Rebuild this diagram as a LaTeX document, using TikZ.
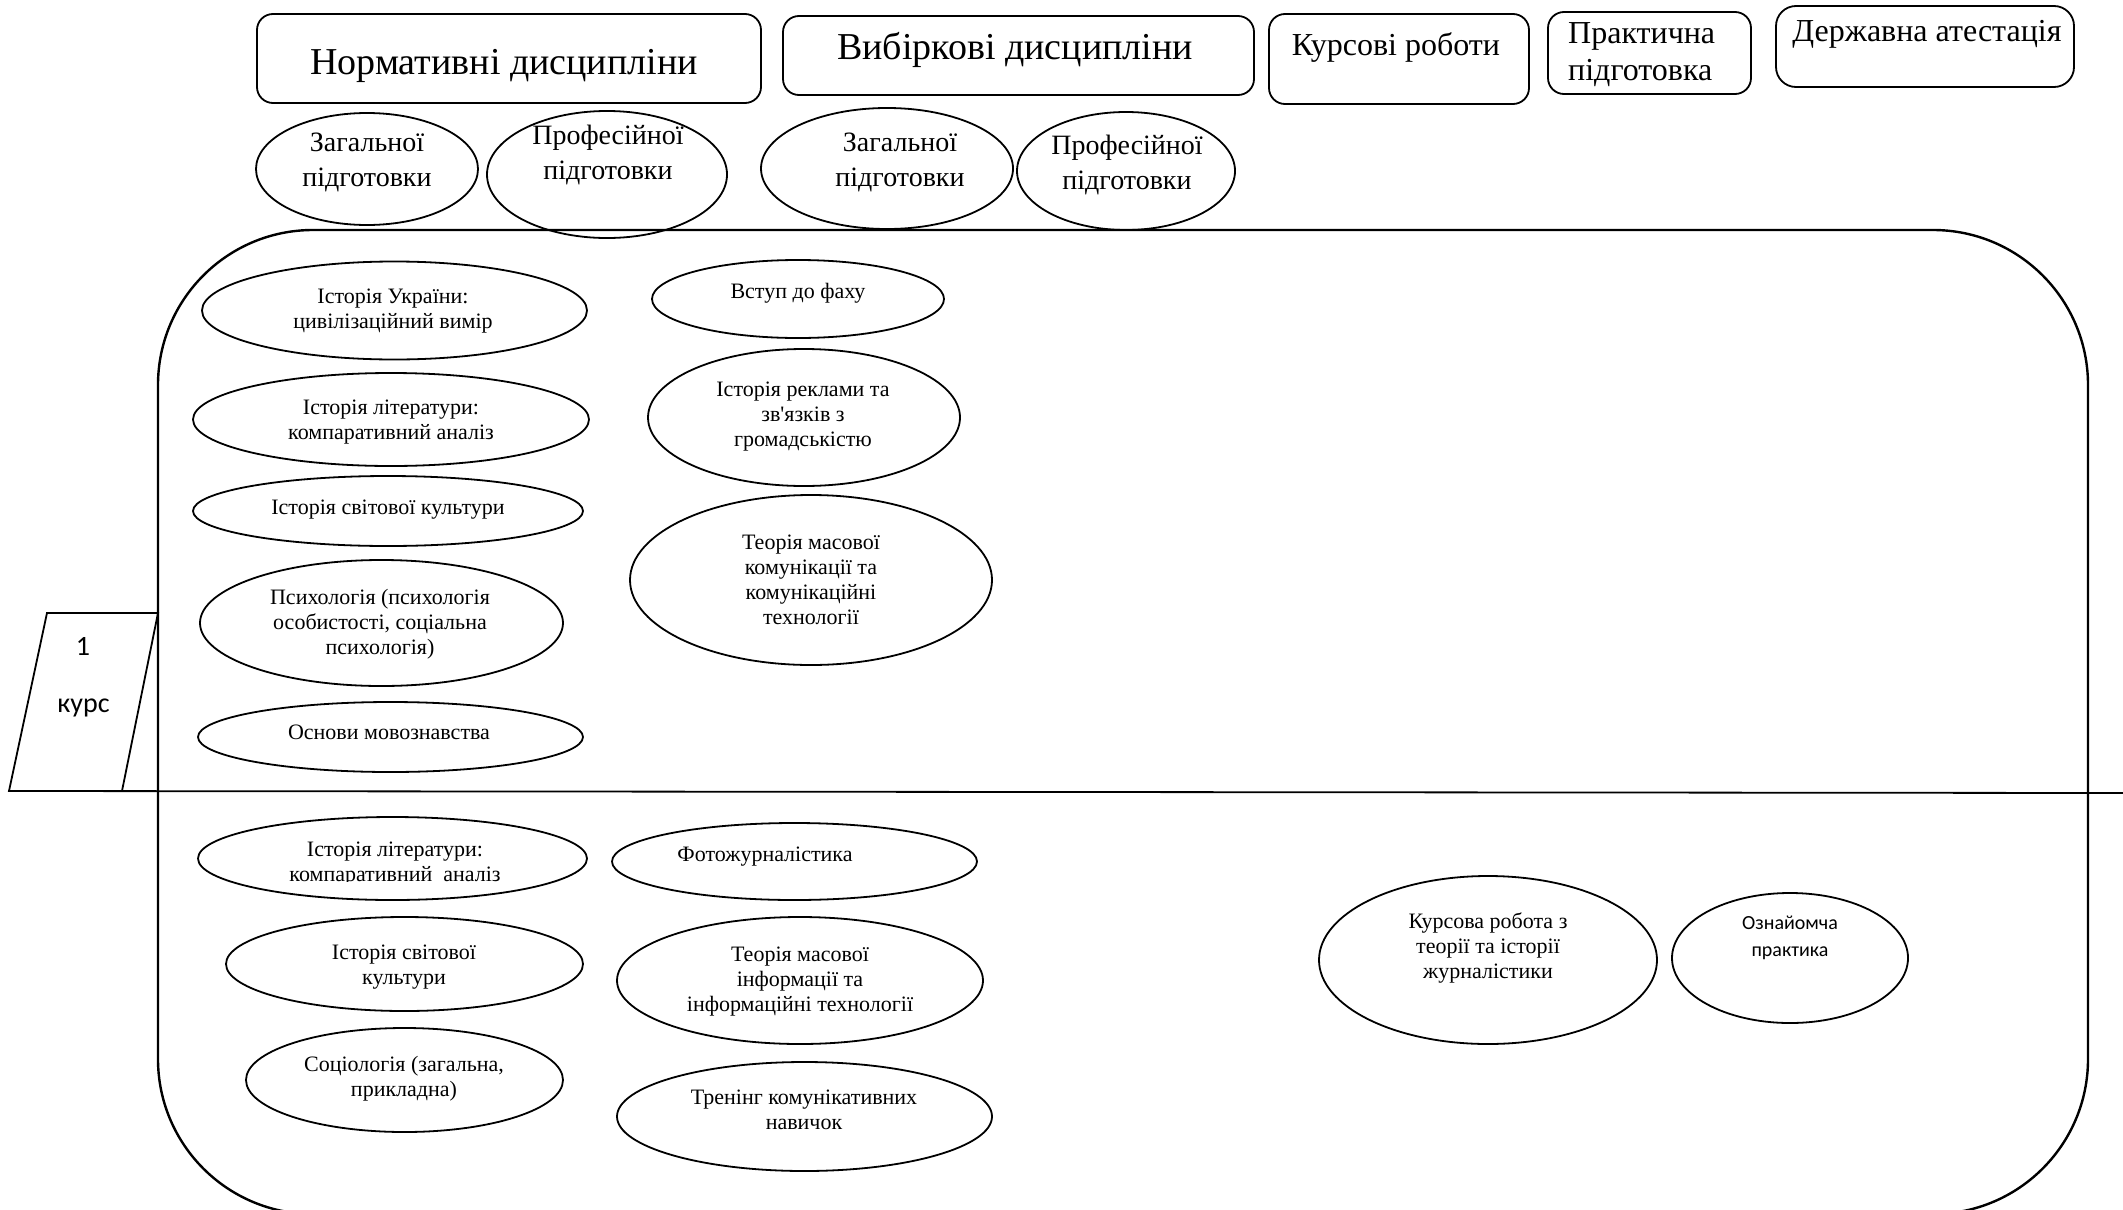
\documentclass[tikz,border=0pt]{standalone}
\usepackage{fontspec}
\setmainfont{Liberation Serif}
\newfontfamily\plainserif{Liberation Serif}
\newfontfamily\calib{Carlito}
\usetikzlibrary{shapes.geometric}
\tikzset{
  hbox/.style={draw, rectangle, rounded corners=16pt, line width=1.8pt, inner sep=0pt},
  ell/.style={draw, ellipse, line width=1.8pt, inner sep=0pt},
  txt/.style={align=center, anchor=base, inner sep=0pt},
  ftA/.style={font=\fontsize{22}{25}\selectfont},
  ftH/.style={font=\fontsize{38}{42}\selectfont},
  ftM/.style={font=\fontsize{32}{37}\selectfont},
  ftS/.style={font=\fontsize{28}{35}\selectfont},
}
\begin{document}
\begin{tikzpicture}[x=1pt,y=-1pt]
\useasboundingbox (0,0) rectangle (2123,1210);
\clip (0,0) rectangle (2123,1210);

% header boxes
\node[hbox, minimum width=504pt, minimum height=89pt] (h1) at (509,58.5) {};
\node[hbox, minimum width=471pt, minimum height=79pt] (h2) at (1018.5,55.5) {};
\node[hbox, minimum width=260pt, minimum height=90pt] (h3) at (1399,59) {};
\node[hbox, minimum width=203pt, minimum height=82pt] (h4) at (1649.5,53) {};
\node[hbox, minimum width=298pt, minimum height=81pt, rounded corners=20pt] (h5) at (1925,46.5) {};
\node[txt, ftH] (th1) at (504,74) {Нормативні дисципліни};
\node[txt, ftH] (th2) at (1015,59) {Вибіркові дисципліни};
\node[txt, ftM] (th3) at (1396,55) {Курсові роботи};
\node[txt, ftM, align=left, anchor=base west] (th4) at (1568,80) {Практична\\підготовка};
\node[txt, ftM] (th5) at (1927,41) {Державна атестація};

% sub-category ellipses
\node[ell, minimum width=222pt, minimum height=112pt] (s1) at (367,169) {};
\node[ell, minimum width=240pt, minimum height=127pt] (s2) at (607,174.5) {};
\node[ell, minimum width=252pt, minimum height=121pt] (s3) at (887,168.5) {};
\node[ell, minimum width=218pt, minimum height=118pt] (s4) at (1126,171) {};
\node[txt, ftS] (ts1) at (367,186) {Загальної\\підготовки};
\node[txt, ftS] (ts2) at (608,179) {Професійної\\підготовки};
\node[txt, ftS] (ts3) at (900,186) {Загальної\\підготовки};
\node[txt, ftS] (ts4) at (1127,189) {Професійної\\підготовки};

% big frame and divider
\draw[line width=2.4pt, rounded corners=155pt] (158,230) rectangle (2088,1214);
\coordinate (la) at (9,791);
\coordinate (lb) at (2123,793);
\draw[line width=1.8pt] (la) -- (lb);

% course label
\draw[line width=1.8pt] (47,613) -- (158,613) -- (122,791) -- (9,791) -- cycle;
\node[txt, font=\calib\fontsize{28}{32}\selectfont] (k1) at (83,655) {1};
\node[txt, font=\calib\fontsize{28}{32}\selectfont] (k2) at (83.5,712) {курс};

% year 1, left column
\node[ell, minimum width=385pt, minimum height=98pt] (e1) at (394.5,310.5) {};
\node[ell, minimum width=396pt, minimum height=93pt] (e2) at (391,419.5) {};
\node[ell, minimum width=390pt, minimum height=70pt] (e3) at (388,511) {};
\node[ell, minimum width=363pt, minimum height=126pt] (e4) at (381.5,623) {};
\node[ell, minimum width=385pt, minimum height=70pt] (e5) at (390.5,737) {};
\node[txt, ftA] (te1) at (393,328) {Історія України:\\цивілізаційний вимір};
\node[txt, ftA] (te2) at (391,439) {Історія літератури:\\компаративний аналіз};
\node[txt, ftA] (te3) at (388,514) {Історія світової культури};
\node[txt, ftA] (te4) at (380,654) {Психологія (психологія\\особистості, соціальна\\психологія)};
\node[txt, ftA] (te5) at (389,739) {Основи мовознавства};

% year 1, right column
\node[ell, minimum width=292pt, minimum height=78pt] (r1) at (798,299) {};
\node[ell, minimum width=312pt, minimum height=137pt] (r2) at (804,417.5) {};
\node[ell, minimum width=362pt, minimum height=170pt] (r3) at (811,580) {};
\node[txt, ftA] (tr1) at (798,298) {Вступ до фаху};
\node[txt, ftA] (tr2) at (803,446) {Історія реклами та\\зв{\plainserif '}язків з\\громадськістю};
\node[txt, ftA] (tr3) at (811,624) {Теорія масової\\комунікації та\\комунікаційні\\технології};

% year 2, left column
\node[ell, minimum width=389pt, minimum height=83pt] (f1) at (392.5,858.5) {};
\node[ell, minimum width=357pt, minimum height=94pt] (f2) at (404.5,964) {};
\node[ell, minimum width=317pt, minimum height=104pt] (f3) at (404.5,1080) {};
\begin{scope}
\clip (190,800) rectangle (600,881);
\node[txt, ftA] (tf1) at (395,881) {Історія літератури:\\компаративний\ \ аналіз};
\end{scope}
\node[txt, ftA] (tf2) at (404,984) {Історія світової\\культури};
\node[txt, ftA] (tf3) at (404,1096) {Соціологія (загальна,\\прикладна)};

% year 2, right column
\node[ell, minimum width=365pt, minimum height=77pt] (g1) at (794.5,861.5) {};
\node[ell, minimum width=366pt, minimum height=127pt] (g2) at (800,980.5) {};
\node[ell, minimum width=375pt, minimum height=109pt] (g3) at (804.5,1116.5) {};
\node[txt, ftA] (tg1) at (765,861) {Фотожурналістика};
\node[txt, ftA] (tg2) at (800,1011) {Теорія масової\\інформації та\\інформаційні технології};
\node[txt, ftA] (tg3) at (804,1129) {Тренінг комунікативних\\навичок};

% course work and practice
\node[ell, minimum width=338pt, minimum height=168pt] (q1) at (1488,960) {};
\node[ell, minimum width=236pt, minimum height=130pt] (q2) at (1790,958) {};
\node[txt, ftA] (tq1) at (1488,978) {Курсова робота з\\теорії та історії\\журналістики};
\node[txt, font=\calib\fontsize{20}{27}\selectfont] (tq2) at (1790,956) {Ознайомча\\практика};
\end{tikzpicture}
\end{document}
